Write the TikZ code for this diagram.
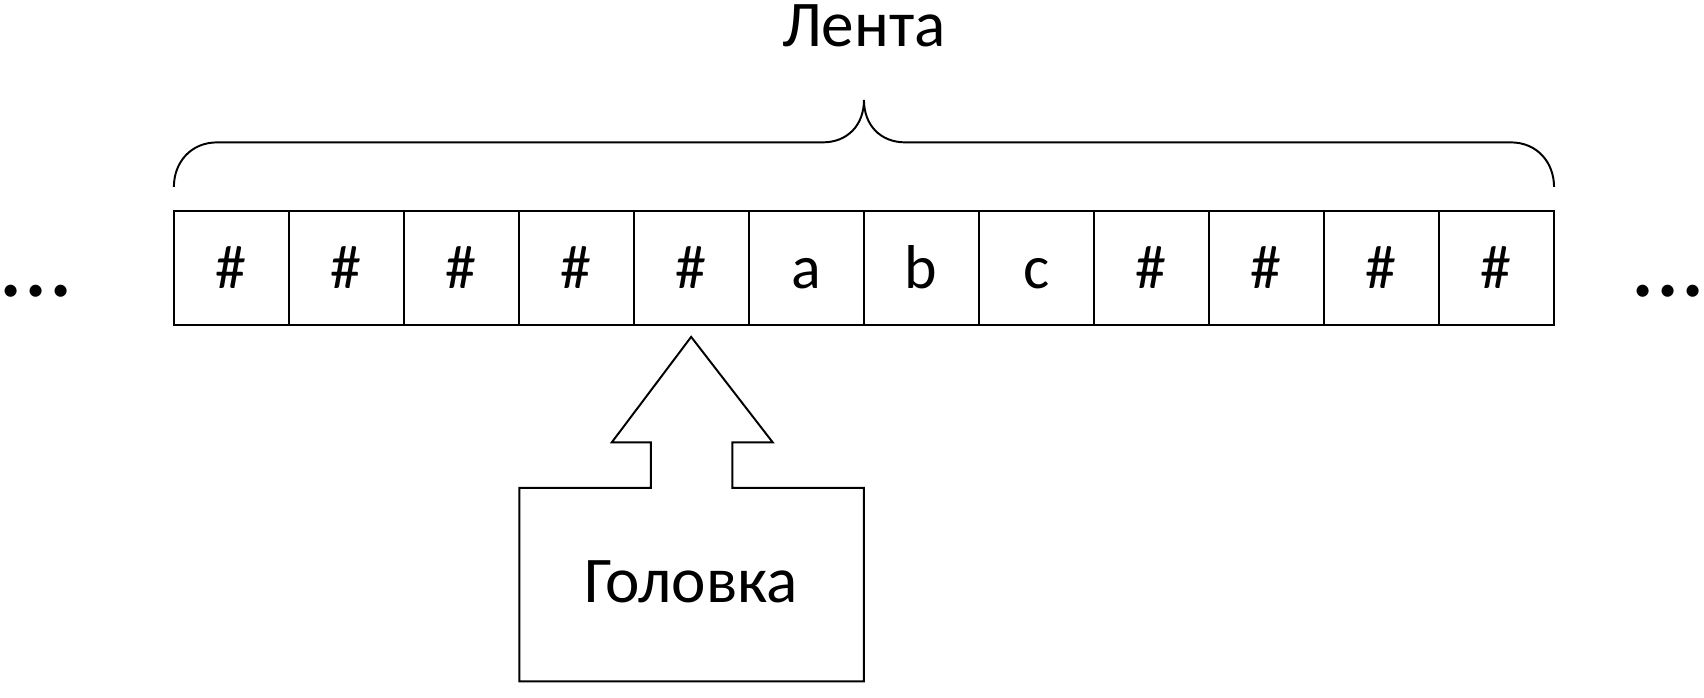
\documentclass[tikz,border=0pt]{standalone}
\usepackage{fontspec}
\setmainfont{Carlito}
\usepackage{tikz}
\tikzset{cell/.style={draw,minimum width=52.9pt,minimum height=52.5pt,inner sep=0pt,
  text height=18.8pt,text depth=0pt,font=\fontsize{28.5}{30}\selectfont}}
\tikzset{label/.style={inner sep=0pt,anchor=base,font=\fontsize{30}{32}\selectfont}}
\tikzset{dots/.style={inner sep=0pt,anchor=base,font=\fontsize{46}{48}\selectfont}}

\begin{document}
\begin{tikzpicture}[x=0.5pt,y=-0.5pt,line width=0.9pt]
          \useasboundingbox (0,0) rectangle (1568,642);
          \foreach \i/\s in {1/\#, 2/\#, 3/\#, 4/\#, 5/\#, 6/a,
                             7/b, 8/c, 9/\#, 10/\#, 11/\#, 12/\#}
            \node[cell] (c-\i) at (160+105.8*\i-52.9,246.5) {\s};
          \node[dots] (dots-l) at (33,273) {...};
          \node[dots] (dots-r) at (1535,273) {...};
          % brace over the tape
          \draw (160,172) .. controls (160,150) and (175,131) .. (200,131) -- (757,131)
                .. controls (780,131) and (795,115) .. (795,92)
                .. controls (795,115) and (810,131) .. (833,131) -- (1390,131)
                .. controls (1415,131) and (1430,150) .. (1430,172);
          \node[label] (tape) at (795,43) {Лента};
          % head
          \draw (636,310) -- (711,407) -- (674,407) -- (674,449) -- (795,449) -- (795,627)
                -- (478,627) -- (478,449) -- (599,449) -- (599,407) -- (563,407) -- cycle;
          \node[label] (head) at (636,554.5) {Головка};
        \end{tikzpicture}
\end{document}
